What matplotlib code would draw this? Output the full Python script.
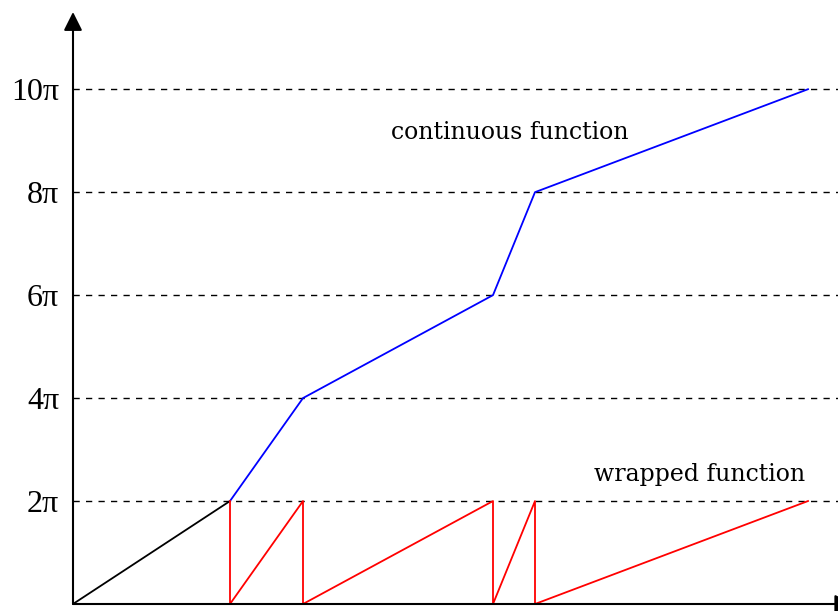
import matplotlib.pyplot as plt
import numpy as np

# breakpoints of the phase (x in arbitrary units, y in multiples of pi)
x_black = [0, 15.7]
y_black = [0, 2]
x_cont = [15.7, 23.0, 42.0, 46.2, 73.5]
y_cont = [2, 4, 6, 8, 10]
x_wrap = [15.7, 15.7, 23.0, 23.0, 42.0, 42.0, 46.2, 46.2, 73.5]
y_wrap = [2, 0, 2, 0, 2, 0, 2, 0, 2]
yticks = [2, 4, 6, 8, 10]
ytick_labels = ['2π', '4π', '6π', '8π', '10π']

plt.rcParams['font.family'] = ['Liberation Serif', 'DejaVu Serif']

W, H = 838, 611
fig = plt.figure(figsize=(W / 100, H / 100), dpi=100)
ax = fig.add_axes([73 / W, 7 / H, (W - 73) / W, (604 - 12) / H])
ax.set_xlim(0, 76.5)
ax.set_ylim(0, 11.5)

for s in ax.spines.values():
    s.set_visible(False)
ax.set_xticks([])
ax.set_yticks(yticks)
ax.set_yticklabels(ytick_labels, fontsize=23)
ax.tick_params(axis='y', length=0, pad=10)

for yv in yticks:
    ax.axhline(yv, color='black', lw=1.0, ls=(0, (4.5, 4.5)), zorder=1)

ax.plot(x_black, y_black, color='black', lw=1.3, zorder=3)
ax.plot(x_cont, y_cont, color='blue', lw=1.3, zorder=3)
ax.plot(x_wrap, y_wrap, color='red', lw=1.3, zorder=3)

# axis arrows
ax.annotate('', xy=(0, 1.0), xytext=(0, 0), xycoords='axes fraction',
            arrowprops=dict(arrowstyle='-|>', color='black', lw=1.5,
                            mutation_scale=28, shrinkA=0, shrinkB=0),
            annotation_clip=False)
ax.annotate('', xy=(1.02, 0), xytext=(0, 0), xycoords='axes fraction',
            arrowprops=dict(arrowstyle='-|>', color='black', lw=1.5,
                            mutation_scale=28, shrinkA=0, shrinkB=0),
            annotation_clip=False)

ax.text(43.7, 9.15, 'continuous function', fontsize=17, ha='center', va='center',
        family=['DejaVu Serif'])
ax.text(62.7, 2.52, 'wrapped function', fontsize=17, ha='center', va='center',
        family=['DejaVu Serif'])

fig.savefig('out.png', dpi=100)
